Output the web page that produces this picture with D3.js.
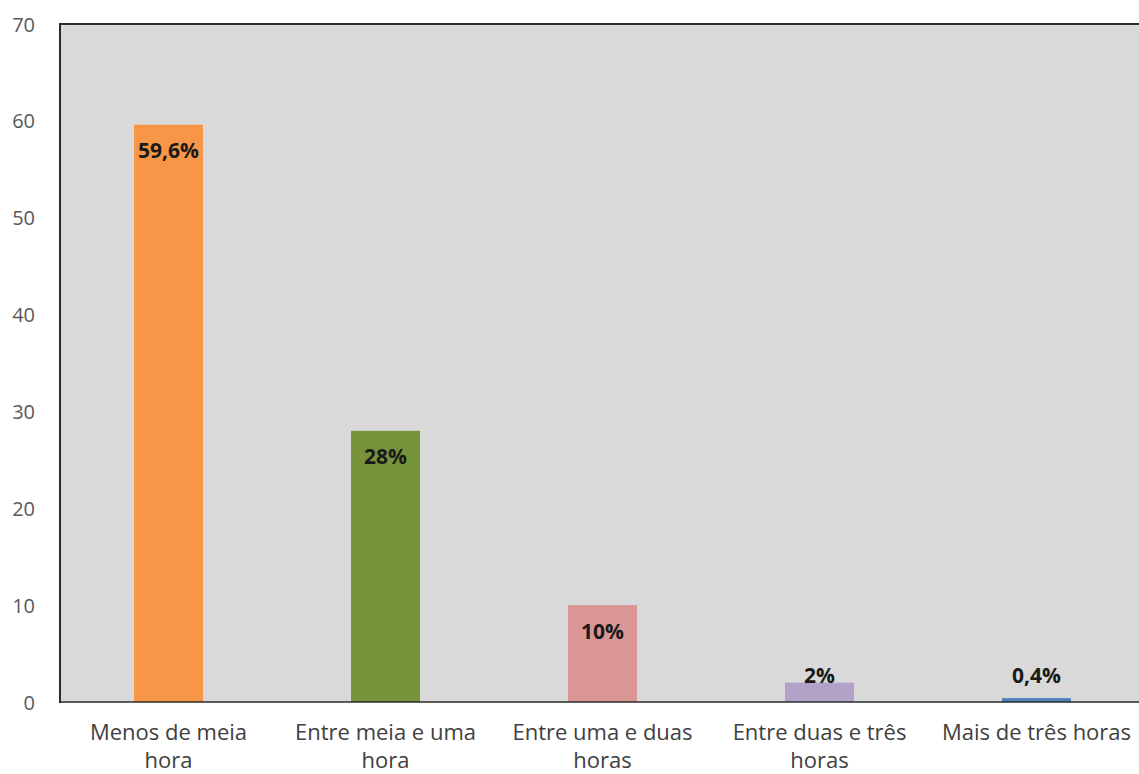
<!DOCTYPE html>
<html>
<head>
<meta charset="utf-8">
<script src="https://cdn.jsdelivr.net/npm/d3@7"></script>
<style>
  html, body { margin: 0; padding: 0; background: #ffffff; }
  svg { display: block; }
</style>
</head>
<body>
<svg id="chart" width="1139" height="774"></svg>
<script>
// Time spent per day — share of respondents (%)
const categories = [
  ["Menos de meia", "hora"],
  ["Entre meia e uma", "hora"],
  ["Entre uma e duas", "horas"],
  ["Entre duas e três", "horas"],
  ["Mais de três horas"]
];
const values = [59.6, 28, 10, 2, 0.4];
const valueLabels = ["59,6%", "28%", "10%", "2%", "0,4%"];
const barColors = ["#f79646", "#77933c", "#d99694", "#b3a2c7", "#4f81bd"];
const yTicks = [0, 10, 20, 30, 40, 50, 60, 70];

const svg = d3.select("#chart");
const font = "'Open Sans', 'Noto Sans', sans-serif";

const plot = { left: 60, top: 24, bottom: 702, right: 1145 };

const x = d3.scaleBand()
  .domain(d3.range(values.length))
  .range([plot.left, plot.right])
  .paddingInner(0.682)
  .paddingOuter(0.341);

const y = d3.scaleLinear()
  .domain([0, 70])
  .range([plot.bottom, plot.top]);

// plot background
svg.append("rect")
  .attr("x", plot.left).attr("y", plot.top)
  .attr("width", plot.right - plot.left).attr("height", plot.bottom - plot.top)
  .attr("fill", "#d9d9d9");

// bars
svg.append("g").selectAll("rect")
  .data(values)
  .join("rect")
  .attr("x", (d, i) => x(i))
  .attr("width", x.bandwidth())
  .attr("y", d => y(d))
  .attr("height", d => y(0) - y(d))
  .attr("fill", (d, i) => barColors[i]);

// value labels, inside the top of each bar (lifted above very short bars)
svg.append("g").selectAll("text")
  .data(values)
  .join("text")
  .attr("x", (d, i) => x(i) + x.bandwidth() / 2)
  .attr("y", d => Math.min(y(d) + 28, y(0) - 25))
  .attr("text-anchor", "middle")
  .attr("dominant-baseline", "middle")
  .attr("font-family", font)
  .attr("font-size", 21)
  .attr("font-weight", "bold")
  .attr("fill", "#1a1a1a")
  .text((d, i) => valueLabels[i]);

// y axis tick labels
const yAxis = d3.axisLeft(y).tickValues(yTicks).tickSize(0).tickPadding(25);
const gy = svg.append("g").attr("transform", `translate(${plot.left},0)`).call(yAxis);
gy.select(".domain").remove();
gy.selectAll("text")
  .attr("font-family", font)
  .attr("font-size", 20)
  .attr("fill", "#595959")
  .attr("dy", "0.35em");

// x axis category labels (wrapped)
const xAxis = d3.axisBottom(x).tickSize(0).tickFormat(() => "");
const gx = svg.append("g").attr("transform", `translate(0,${plot.bottom})`).call(xAxis);
gx.select(".domain").remove();
gx.selectAll(".tick").each(function(d) {
  const t = d3.select(this).append("text")
    .attr("text-anchor", "middle")
    .attr("font-family", font)
    .attr("font-size", 22)
    .attr("fill", "#404040");
  categories[d].forEach((line, k) => {
    t.append("tspan").attr("x", 0).attr("y", 32 + k * 28)
      .attr("dominant-baseline", "middle").text(line);
  });
});

// frame lines: top and left borders, baseline
svg.append("line")
  .attr("x1", plot.left).attr("x2", plot.right)
  .attr("y1", plot.top).attr("y2", plot.top)
  .attr("stroke", "#2b2b2b").attr("stroke-width", 2);
svg.append("line")
  .attr("x1", plot.left).attr("x2", plot.left)
  .attr("y1", plot.top - 1).attr("y2", plot.bottom + 1)
  .attr("stroke", "#2b2b2b").attr("stroke-width", 2);
svg.append("line")
  .attr("x1", plot.left).attr("x2", plot.right)
  .attr("y1", plot.bottom).attr("y2", plot.bottom)
  .attr("stroke", "#2b2b2b").attr("stroke-width", 1.5);
</script>
</body>
</html>
